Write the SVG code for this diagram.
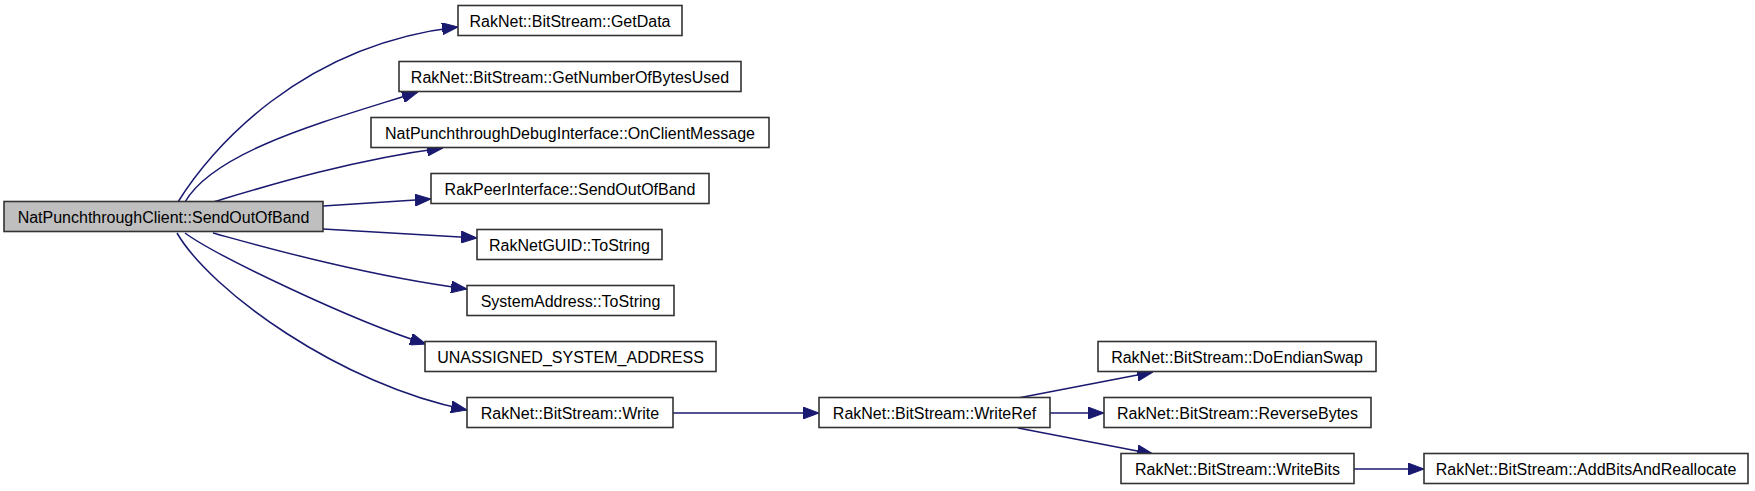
<svg xmlns="http://www.w3.org/2000/svg" width="1755" height="491" viewBox="0 0 1755 491">
<style>
.node rect{fill:#ffffff;stroke:#333333;stroke-width:1.6}
.node.main rect{fill:#bfbfbf}
.node text{font-family:"Liberation Sans",Arial,sans-serif;font-size:16px;fill:#000000;text-anchor:middle}
.edges path{fill:none;stroke:#191970;stroke-width:1.5;marker-end:url(#arr)}
</style>
<defs>
<marker id="arr" markerUnits="userSpaceOnUse" markerWidth="16" markerHeight="12" viewBox="0 0 16 12" refX="16" refY="6" orient="auto">
<path d="M0,0 L16,6 L0,12 z" fill="#191970" stroke="#191970" stroke-width="1"/>
</marker>
</defs>
<rect width="1755" height="491" fill="#ffffff"/>
<g class="edges" id="edges">
<path d="M178,202 C210,150 300,45 458,27"/>
<path d="M185,202 C215,150 330,120 418,92"/>
<path d="M213,202 C260,188 350,160 443,148"/>
<path d="M323,206 L431,199"/>
<path d="M323,229 L477,238"/>
<path d="M213,233 C250,243 360,275 467,289"/>
<path d="M185,233 C215,255 350,320 426,344"/>
<path d="M177,233 C210,290 340,385 467,410"/>
<path d="M673,413 L819,413"/>
<path d="M1018,398 L1153,372"/>
<path d="M1050,413 L1104,413"/>
<path d="M1018,428 L1153,454"/>
<path d="M1354,469 L1424,469"/>
</g>
<g class="node main" id="n_main"><rect x="4" y="201.5" width="319" height="30"/><text x="163.5" y="222.5">NatPunchthroughClient::SendOutOfBand</text></g>
<g class="node" id="n_getdata"><rect x="458" y="5.5" width="224" height="30"/><text x="570" y="26.5">RakNet::BitStream::GetData</text></g>
<g class="node" id="n_getnum"><rect x="399" y="61.5" width="342" height="30"/><text x="570" y="82.5">RakNet::BitStream::GetNumberOfBytesUsed</text></g>
<g class="node" id="n_onclient"><rect x="371" y="117.5" width="398" height="30"/><text x="570" y="138.5">NatPunchthroughDebugInterface::OnClientMessage</text></g>
<g class="node" id="n_sendoob"><rect x="431" y="173.5" width="278" height="30"/><text x="570" y="194.5">RakPeerInterface::SendOutOfBand</text></g>
<g class="node" id="n_guid"><rect x="477" y="229.5" width="185" height="30"/><text x="569.5" y="250.5">RakNetGUID::ToString</text></g>
<g class="node" id="n_sysaddr"><rect x="467" y="285.5" width="207" height="30"/><text x="570.5" y="306.5">SystemAddress::ToString</text></g>
<g class="node" id="n_unassigned"><rect x="425" y="341.5" width="291" height="30"/><text x="570.5" y="362.5">UNASSIGNED_SYSTEM_ADDRESS</text></g>
<g class="node" id="n_write"><rect x="467" y="397.5" width="206" height="30"/><text x="570" y="418.5">RakNet::BitStream::Write</text></g>
<g class="node" id="n_writeref"><rect x="819" y="397.5" width="231" height="30"/><text x="934.5" y="418.5">RakNet::BitStream::WriteRef</text></g>
<g class="node" id="n_endian"><rect x="1098" y="341.5" width="278" height="30"/><text x="1237" y="362.5">RakNet::BitStream::DoEndianSwap</text></g>
<g class="node" id="n_reverse"><rect x="1104" y="397.5" width="267" height="30"/><text x="1237.5" y="418.5">RakNet::BitStream::ReverseBytes</text></g>
<g class="node" id="n_writebits"><rect x="1121" y="453.5" width="233" height="30"/><text x="1237.5" y="474.5">RakNet::BitStream::WriteBits</text></g>
<g class="node" id="n_addbits"><rect x="1424" y="453.5" width="324" height="30"/><text x="1586" y="474.5">RakNet::BitStream::AddBitsAndReallocate</text></g>
</svg>
